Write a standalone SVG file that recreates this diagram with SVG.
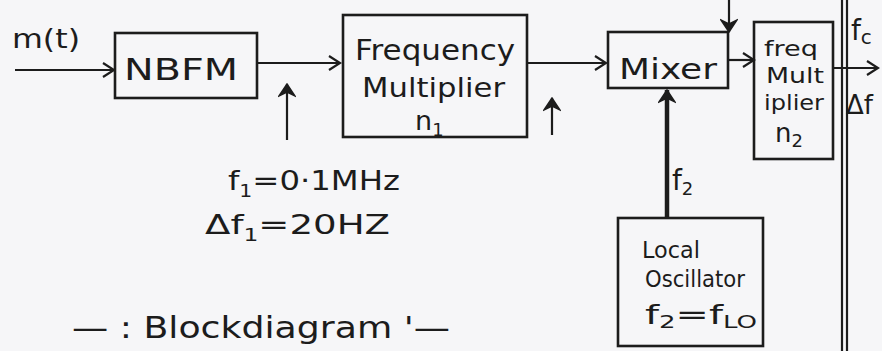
<svg xmlns="http://www.w3.org/2000/svg" width="882" height="351" viewBox="0 0 882 351">
<defs>
<marker id="open" markerWidth="14" markerHeight="16" refX="12" refY="8" orient="auto" markerUnits="userSpaceOnUse">
<path d="M1,1 L12,8 L1,15" fill="none" stroke="#1c1c1c" stroke-width="2.2"/>
</marker>
<marker id="up" markerWidth="18" markerHeight="16" refX="9" refY="1" orient="0" markerUnits="userSpaceOnUse">
<path d="M1,13 L9,1 L17,13 L9,9 Z" fill="#1c1c1c" stroke="#1c1c1c" stroke-width="1.5"/>
</marker>
<marker id="down" markerWidth="18" markerHeight="16" refX="9" refY="15" orient="0" markerUnits="userSpaceOnUse">
<path d="M1,3 L9,15 L17,3 L9,7 Z" fill="#1c1c1c" stroke="#1c1c1c" stroke-width="1.5"/>
</marker>
</defs>
<style>
.box{fill:none;stroke:#1c1c1c;stroke-width:2.6}
.ln{fill:none;stroke:#1c1c1c;stroke-width:2.2}
.t{font-family:"DejaVu Sans","Liberation Sans",sans-serif;fill:#1c1c1c}
</style>
<rect width="882" height="351" fill="#f6f6f8"/>

<g id="connectors">
<line class="ln" x1="15" y1="70" x2="114" y2="70" marker-end="url(#open)"/>
<line class="ln" x1="257" y1="63" x2="340" y2="63" marker-end="url(#open)"/>
<line class="ln" x1="287" y1="140" x2="287" y2="84" marker-end="url(#up)"/>
<line class="ln" x1="527" y1="63" x2="606" y2="63" marker-end="url(#open)"/>
<line class="ln" x1="552" y1="135" x2="552" y2="98" marker-end="url(#up)"/>
<line class="ln" x1="727" y1="60" x2="754" y2="60" marker-end="url(#open)"/>
<line class="ln" x1="729" y1="0" x2="729" y2="32" marker-end="url(#down)"/>
<line x1="667" y1="218" x2="667" y2="90" stroke="#1c1c1c" stroke-width="4.5" marker-end="url(#up)"/>
<line class="ln" x1="833" y1="68" x2="878" y2="68" marker-end="url(#open)"/>
<line class="ln" x1="842" y1="0" x2="842" y2="351"/>
<line class="ln" x1="847" y1="0" x2="847" y2="351"/>
</g>

<g id="nbfm">
<rect class="box" x="115" y="33" width="142" height="65"/>
<text class="t" x="124" y="80" font-size="30" textLength="114" lengthAdjust="spacingAndGlyphs">NBFM</text>
</g>

<g id="freq-mult-1">
<rect class="box" x="343" y="15" width="184" height="122"/>
<text class="t" x="355" y="60" font-size="28" textLength="160" lengthAdjust="spacingAndGlyphs">Frequency</text>
<text class="t" x="362" y="97" font-size="27" textLength="143" lengthAdjust="spacingAndGlyphs">Multiplier</text>
<text class="t" x="415" y="130" font-size="27">n<tspan font-size="18" dy="6">1</tspan></text>
</g>

<g id="mixer">
<rect class="box" x="608" y="32" width="120" height="56"/>
<text class="t" x="619" y="79" font-size="29" textLength="98" lengthAdjust="spacingAndGlyphs">Mixer</text>
</g>

<g id="freq-mult-2">
<rect class="box" x="754" y="22" width="79" height="137"/>
<text class="t" x="764" y="56" font-size="22" textLength="54" lengthAdjust="spacingAndGlyphs">freq</text>
<text class="t" x="766" y="83" font-size="22" textLength="58" lengthAdjust="spacingAndGlyphs">Mult</text>
<text class="t" x="764" y="110" font-size="22" textLength="60" lengthAdjust="spacingAndGlyphs">iplier</text>
<text class="t" x="775" y="142" font-size="26">n<tspan font-size="18" dy="5">2</tspan></text>
</g>

<g id="local-oscillator">
<rect class="box" x="618" y="218" width="145" height="128"/>
<text class="t" x="642" y="258" font-size="23" textLength="58" lengthAdjust="spacingAndGlyphs">Local</text>
<text class="t" x="645" y="287" font-size="23" textLength="100" lengthAdjust="spacingAndGlyphs">Oscillator</text>
<text class="t" x="645" y="324" font-size="26" textLength="112" lengthAdjust="spacingAndGlyphs">f<tspan font-size="17" dy="4">2</tspan><tspan dy="-4">=f</tspan><tspan font-size="17" dy="4">LO</tspan></text>
</g>

<g id="labels">
<text class="t" x="12" y="48" font-size="26" textLength="68" lengthAdjust="spacingAndGlyphs">m(t)</text>
<text class="t" x="228" y="190" font-size="27" textLength="172" lengthAdjust="spacingAndGlyphs">f<tspan font-size="17" dy="7">1</tspan><tspan dy="-7">=0·1MHz</tspan></text>
<text class="t" x="205" y="234" font-size="27" textLength="185" lengthAdjust="spacingAndGlyphs">Δf<tspan font-size="17" dy="7">1</tspan><tspan dy="-7">=20HZ</tspan></text>
<text class="t" x="672" y="190" font-size="28">f<tspan font-size="18" dy="5">2</tspan></text>
<text class="t" x="851" y="40" font-size="28">f<tspan font-size="20" dy="4">c</tspan></text>
<text class="t" x="846" y="114" font-size="26">Δf</text>
<text class="t" x="72" y="338" font-size="30" textLength="378" lengthAdjust="spacingAndGlyphs">— : Blockdiagram '—</text>
</g>
</svg>
